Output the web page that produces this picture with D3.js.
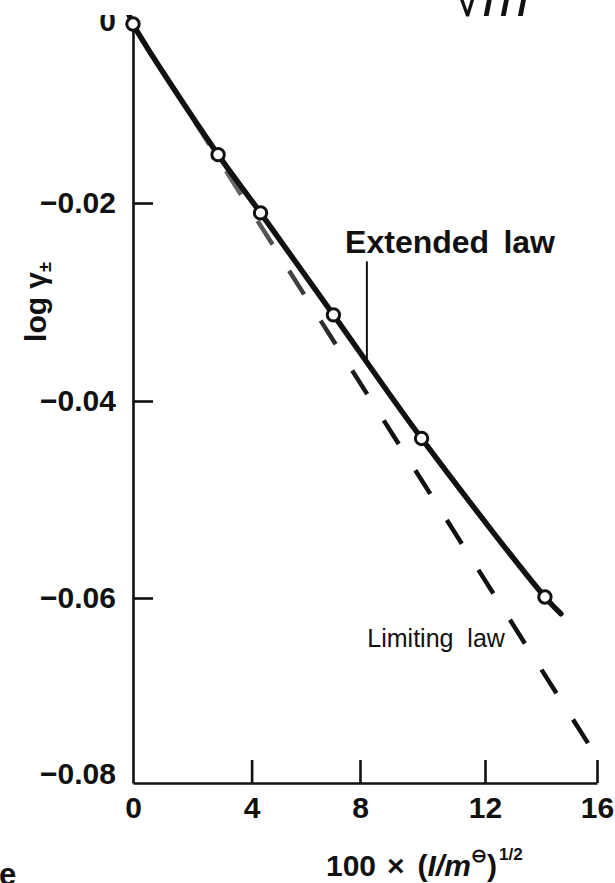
<!DOCTYPE html>
<html>
<head>
<meta charset="utf-8">
<script src="https://cdn.jsdelivr.net/npm/d3@7"></script>
<style>
  html, body { margin: 0; padding: 0; background: #fff; }
  svg { display: block; }
  text { font-family: "Liberation Sans", Arial, Helvetica, sans-serif; fill: #111; }
</style>
</head>
<body>
<script>
// Axis ticks
const xTicks = [0, 4, 8, 12, 16];
const xTickLabels = ["0", "4", "8", "12", "16"];
const yTicks = [0, -0.02, -0.04, -0.06, -0.08];
const yTickLabels = ["0", "\u22120.02", "\u22120.04", "\u22120.06", "\u22120.08"];

// Measured points: 100 × (I/m°)^1/2 against log γ±
const pointX = [0, 2.87, 4.33, 7.02, 9.97, 14.14];
const pointY = [0, -0.0146, -0.0210, -0.0313, -0.0438, -0.0599];

// Extended Debye–Hückel law, drawn through the points
const extendedX = [-0.15, 0, 2.87, 4.33, 7.02, 9.97, 14.14, 14.71];
const extendedY = [0.0012, 0, -0.0146, -0.0210, -0.0313, -0.0438, -0.0599, -0.0617];

// Debye–Hückel limiting law (straight line from the origin)
const limitingX = [0, 15.68];
const limitingY = [0, -0.0757];

const W = 615, H = 883;
const svg = d3.select("body").append("svg").attr("width", W).attr("height", H);

// piecewise-linear scales follow the printed tick spacing
const x = d3.scaleLinear().domain(xTicks).range([133, 251.6, 360, 485, 597]);
const y = d3.scaleLinear().domain(yTicks).range([24, 203, 401, 598, 783]);

const defs = svg.append("defs");
// the figure is trimmed just above the origin
defs.append("clipPath").attr("id", "fig")
  .append("rect").attr("x", 0).attr("y", 15).attr("width", W).attr("height", H - 15);
// the dashed line prints faintly near the top
const grad = defs.append("linearGradient").attr("id", "dashInk")
  .attr("gradientUnits", "userSpaceOnUse")
  .attr("x1", 0).attr("y1", y(0)).attr("x2", 0).attr("y2", y(-0.04));
grad.append("stop").attr("offset", 0).attr("stop-color", "#aaa");
grad.append("stop").attr("offset", 0.55).attr("stop-color", "#555");
grad.append("stop").attr("offset", 1).attr("stop-color", "#111");

const fig = svg.append("g").attr("clip-path", "url(#fig)");

// x axis
const gx = fig.append("g")
  .attr("transform", `translate(0,${y(-0.08)})`)
  .call(d3.axisBottom(x).tickValues(xTicks)
    .tickFormat((d, i) => xTickLabels[i])
    .tickSizeInner(-23).tickSizeOuter(0).tickPadding(14));
gx.selectAll(".tick").filter(d => d === 0).select("line").remove();

// y axis
const gy = fig.append("g")
  .attr("transform", `translate(${x(0)},0)`)
  .call(d3.axisLeft(y).tickValues(yTicks)
    .tickFormat((d, i) => yTickLabels[i])
    .tickSizeInner(-20).tickSizeOuter(0).tickPadding(17));
gy.selectAll(".tick").filter(d => d === 0 || d === -0.08).select("line").remove();
gy.selectAll(".tick").filter(d => d === -0.08).select("text").attr("dy", "0.0em");
gy.selectAll(".tick").filter(d => d === 0).select("text").attr("dy", "0.2em");

[gx, gy].forEach(g => {
  g.select(".domain").attr("stroke", "#111").attr("stroke-width", 2.6);
  g.selectAll(".tick line").attr("stroke", "#111").attr("stroke-width", 2.6);
  g.selectAll(".tick text")
    .attr("font-size", 30).attr("font-weight", "bold")
    .attr("font-family", "'Liberation Sans', Arial, sans-serif").attr("fill", "#111");
});

// limiting law (dashed)
const line = d3.line().x(d => x(d[0])).y(d => y(d[1]));
fig.append("path")
  .datum(d3.zip(limitingX, limitingY))
  .attr("d", line)
  .attr("fill", "none").attr("stroke", "url(#dashInk)")
  .attr("stroke-width", 4.5)
  .attr("stroke-dasharray", "28,31")
  .attr("stroke-dashoffset", 3);

// extended law (solid curve)
fig.append("path")
  .datum(d3.zip(extendedX, extendedY))
  .attr("d", line.curve(d3.curveCatmullRom.alpha(0.5)))
  .attr("fill", "none").attr("stroke", "#111")
  .attr("stroke-width", 5.5)
  .attr("stroke-linecap", "round");

// measured points
fig.selectAll("circle.pt")
  .data(d3.zip(pointX, pointY))
  .join("circle").attr("class", "pt")
  .attr("cx", d => x(d[0])).attr("cy", d => y(d[1]))
  .attr("r", 6.2)
  .attr("fill", "#fff").attr("stroke", "#111").attr("stroke-width", 3);

// "Extended law" label with leader
fig.append("line")
  .attr("x1", x(8.22)).attr("x2", x(8.22))
  .attr("y1", y(-0.0259)).attr("y2", y(-0.0361))
  .attr("stroke", "#111").attr("stroke-width", 2);
fig.append("text").attr("x", x(7.45)).attr("y", y(-0.0250))
  .attr("font-size", 32).attr("font-weight", "bold").text("Extended");
fig.append("text").attr("x", x(14.5)).attr("y", y(-0.0250))
  .attr("text-anchor", "end")
  .attr("font-size", 32).attr("font-weight", "bold").text("law");

// "Limiting law" label
fig.append("text").attr("x", x(12.71)).attr("y", y(-0.0653))
  .attr("text-anchor", "end")
  .attr("font-size", 25).attr("fill", "#333")
  .attr("style", "white-space:pre").text("Limiting  law");

// y title: log γ±
const yt = fig.append("text")
  .attr("transform", "translate(46,302) rotate(-90)")
  .attr("text-anchor", "middle")
  .attr("font-size", 30).attr("font-weight", "bold");
yt.append("tspan").text("log \u03b3");
yt.append("tspan").attr("font-size", 18).attr("dy", 5).text("\u00b1");

// x title: 100 × (I/m⊖)^1/2
const xt = fig.append("text")
  .attr("x", 326).attr("y", 876)
  .attr("font-size", 30).attr("font-weight", "bold");
xt.append("tspan").text("100");
xt.append("tspan").attr("dx", 11).text("\u00d7");
xt.append("tspan").attr("dx", 13).text("(");
xt.append("tspan").attr("font-style", "italic").text("I/m");
xt.append("tspan").attr("font-size", 19).attr("dy", -14).text("\u2296");
xt.append("tspan").attr("dy", 14).text(")");
xt.append("tspan").attr("font-size", 17).attr("dy", -16).attr("dx", 2).text("1/2");

// fragments of neighbouring text on the page
svg.append("text").attr("x", 452).attr("y", 16)
  .attr("font-family", "'Liberation Serif', 'DejaVu Serif', serif")
  .attr("font-size", 56).attr("font-style", "italic").text("\u221am");
svg.append("text").attr("x", -1).attr("y", 885)
  .attr("font-size", 31).attr("font-weight", "bold").text("e");
</script>
</body>
</html>
